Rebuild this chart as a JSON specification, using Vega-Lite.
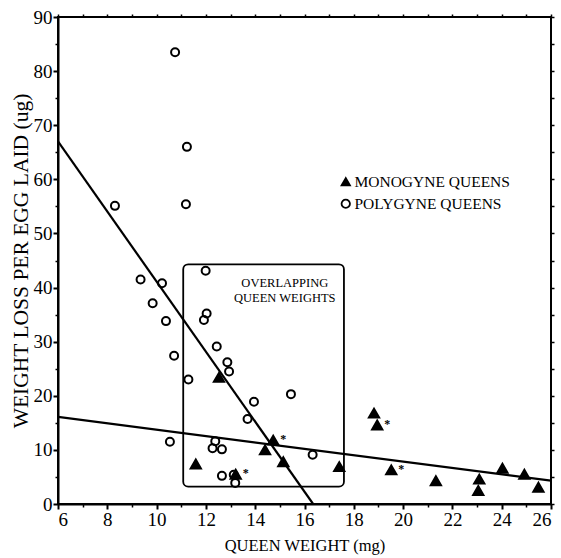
{
  "$schema": "https://vega.github.io/schema/vega-lite/v6.json",
  "width": 493,
  "height": 487,
  "autosize": {"type": "none"},
  "padding": {"left": 58, "top": 17, "right": 10, "bottom": 54},
  "background": "white",
  "config": {
    "view": {"stroke": "black", "strokeWidth": 2},
    "font": "Liberation Serif",
    "axis": {"grid": false, "labelFont": "Liberation Serif", "titleFont": "Liberation Serif", "labelColor": "black", "titleColor": "black", "tickColor": "black", "domainColor": "black", "titleFontWeight": "normal"},
    "legend": {"orient": "none", "legendX": 280, "legendY": 157, "title": null, "padding": 0, "labelFont": "Liberation Serif", "labelFontSize": 15.5, "labelColor": "black", "labelOffset": 1, "rowPadding": 4, "symbolStrokeWidth": 1.8, "symbolSize": 70}
  },
  "datasets": {
    "points": [
      {"group": "POLYGYNE QUEENS", "wt": 10.75, "loss": 83.5, "star": false},
      {"group": "POLYGYNE QUEENS", "wt": 11.23, "loss": 66.0, "star": false},
      {"group": "POLYGYNE QUEENS", "wt": 11.19, "loss": 55.4, "star": false},
      {"group": "POLYGYNE QUEENS", "wt": 8.31, "loss": 55.1, "star": false},
      {"group": "POLYGYNE QUEENS", "wt": 9.35, "loss": 41.5, "star": false},
      {"group": "POLYGYNE QUEENS", "wt": 10.22, "loss": 40.8, "star": false},
      {"group": "POLYGYNE QUEENS", "wt": 9.84, "loss": 37.1, "star": false},
      {"group": "POLYGYNE QUEENS", "wt": 10.38, "loss": 33.8, "star": false},
      {"group": "POLYGYNE QUEENS", "wt": 10.71, "loss": 27.4, "star": false},
      {"group": "POLYGYNE QUEENS", "wt": 11.99, "loss": 43.1, "star": false},
      {"group": "POLYGYNE QUEENS", "wt": 12.03, "loss": 35.2, "star": false},
      {"group": "POLYGYNE QUEENS", "wt": 11.92, "loss": 34.0, "star": false},
      {"group": "POLYGYNE QUEENS", "wt": 12.44, "loss": 29.1, "star": false},
      {"group": "POLYGYNE QUEENS", "wt": 12.87, "loss": 26.2, "star": false},
      {"group": "POLYGYNE QUEENS", "wt": 12.94, "loss": 24.5, "star": false},
      {"group": "POLYGYNE QUEENS", "wt": 11.29, "loss": 23.0, "star": false},
      {"group": "POLYGYNE QUEENS", "wt": 13.95, "loss": 18.9, "star": false},
      {"group": "POLYGYNE QUEENS", "wt": 15.45, "loss": 20.3, "star": false},
      {"group": "POLYGYNE QUEENS", "wt": 13.69, "loss": 15.7, "star": false},
      {"group": "POLYGYNE QUEENS", "wt": 12.38, "loss": 11.6, "star": false},
      {"group": "POLYGYNE QUEENS", "wt": 12.27, "loss": 10.3, "star": false},
      {"group": "POLYGYNE QUEENS", "wt": 12.65, "loss": 10.1, "star": false},
      {"group": "POLYGYNE QUEENS", "wt": 16.33, "loss": 9.1, "star": false},
      {"group": "POLYGYNE QUEENS", "wt": 12.65, "loss": 5.2, "star": false},
      {"group": "POLYGYNE QUEENS", "wt": 13.13, "loss": 5.4, "star": false},
      {"group": "POLYGYNE QUEENS", "wt": 13.19, "loss": 3.9, "star": false},
      {"group": "POLYGYNE QUEENS", "wt": 10.54, "loss": 11.5, "star": false},
      {"group": "MONOGYNE QUEENS", "wt": 12.53, "loss": 23.4, "star": false},
      {"group": "MONOGYNE QUEENS", "wt": 11.59, "loss": 7.4, "star": false},
      {"group": "MONOGYNE QUEENS", "wt": 14.4, "loss": 10.0, "star": false},
      {"group": "MONOGYNE QUEENS", "wt": 14.73, "loss": 11.8, "star": true},
      {"group": "MONOGYNE QUEENS", "wt": 15.14, "loss": 7.8, "star": false},
      {"group": "MONOGYNE QUEENS", "wt": 17.41, "loss": 6.9, "star": false},
      {"group": "MONOGYNE QUEENS", "wt": 13.21, "loss": 5.5, "star": true},
      {"group": "MONOGYNE QUEENS", "wt": 18.82, "loss": 16.8, "star": false},
      {"group": "MONOGYNE QUEENS", "wt": 18.95, "loss": 14.6, "star": true},
      {"group": "MONOGYNE QUEENS", "wt": 19.52, "loss": 6.3, "star": true},
      {"group": "MONOGYNE QUEENS", "wt": 21.33, "loss": 4.3, "star": false},
      {"group": "MONOGYNE QUEENS", "wt": 23.09, "loss": 4.6, "star": false},
      {"group": "MONOGYNE QUEENS", "wt": 23.05, "loss": 2.5, "star": false},
      {"group": "MONOGYNE QUEENS", "wt": 24.03, "loss": 6.6, "star": false},
      {"group": "MONOGYNE QUEENS", "wt": 24.92, "loss": 5.5, "star": false},
      {"group": "MONOGYNE QUEENS", "wt": 25.49, "loss": 3.1, "star": false}
    ],
    "fits": [
      {"fit": "polygyne", "wt": 6, "loss": 67.0},
      {"fit": "polygyne", "wt": 16.35, "loss": 0},
      {"fit": "monogyne", "wt": 6, "loss": 16.1},
      {"fit": "monogyne", "wt": 26, "loss": 4.3}
    ],
    "box": [
      {"x1": 11.08, "x2": 17.6, "y1": 3.2, "y2": 44.3}
    ],
    "boxtext": [
      {"label": "OVERLAPPING", "wt": 15.2, "loss": 40.9},
      {"label": "QUEEN WEIGHTS", "wt": 15.2, "loss": 38.1}
    ]
  },
  "resolve": {"axis": {"x": "independent", "y": "independent"}},
  "layer": [
    {
      "data": {"name": "box"},
      "mark": {"type": "rect", "filled": false, "stroke": "black", "strokeWidth": 1.8, "cornerRadius": 5},
      "encoding": {
        "x": {"field": "x1", "type": "quantitative", "scale": {"domain": [6, 26], "nice": false},
          "axis": {"orient": "bottom", "values": [7, 9, 11, 13, 15, 17, 19, 21, 23, 25], "labels": false, "domain": false, "tickSize": 3, "tickWidth": 1.5, "title": null}},
        "x2": {"field": "x2"},
        "y": {"field": "y1", "type": "quantitative", "scale": {"domain": [0, 90], "nice": false},
          "axis": {"orient": "left", "values": [5, 15, 25, 35, 45, 55, 65, 75, 85], "labels": false, "domain": false, "tickSize": 3, "tickWidth": 1.5, "title": null}},
        "y2": {"field": "y2"}
      }
    },
    {
      "data": {"name": "fits"},
      "mark": {"type": "line", "color": "black", "strokeWidth": 2.2, "clip": true},
      "encoding": {
        "x": {"field": "wt", "type": "quantitative", "scale": {"domain": [6, 26], "nice": false},
          "axis": {"orient": "top", "values": [6, 7, 8, 9, 10, 11, 12, 13, 14, 15, 16, 17, 18, 19, 20, 21, 22, 23, 24, 25, 26], "labels": false, "domain": false, "tickSize": 3, "tickWidth": 1.5, "title": null}},
        "y": {"field": "loss", "type": "quantitative", "scale": {"domain": [0, 90], "nice": false},
          "axis": {"orient": "right", "values": [0, 5, 10, 15, 20, 25, 30, 35, 40, 45, 50, 55, 60, 65, 70, 75, 80, 85, 90], "labels": false, "domain": false, "tickSize": 3, "tickWidth": 1.5, "title": null}},
        "detail": {"field": "fit"}
      }
    },
    {
      "data": {"name": "points"},
      "mark": {"type": "point", "filled": true, "strokeWidth": 2, "opacity": 1},
      "encoding": {
        "x": {"field": "wt", "type": "quantitative", "scale": {"domain": [6, 26], "nice": false},
          "axis": {"orient": "bottom", "values": [6, 8, 10, 12, 14, 16, 18, 20, 22, 24, 26], "tickSize": 5, "tickWidth": 2, "domainWidth": 2, "labelFontSize": 19, "labelPadding": 1, "title": "QUEEN WEIGHT (mg)", "titleFontSize": 16.5, "titlePadding": 8}},
        "y": {"field": "loss", "type": "quantitative", "scale": {"domain": [0, 90], "nice": false},
          "axis": {"orient": "left", "values": [0, 10, 20, 30, 40, 50, 60, 70, 80, 90], "tickSize": 5, "tickWidth": 2, "domainWidth": 2, "labelFontSize": 19, "labelPadding": 1, "title": "WEIGHT LOSS PER EGG LAID (ug)", "titleFontSize": 21.5, "titlePadding": 1}},
        "size": {"condition": {"test": "datum.group === 'MONOGYNE QUEENS'", "value": 105}, "value": 64},
        "shape": {"field": "group", "type": "nominal", "scale": {"domain": ["MONOGYNE QUEENS", "POLYGYNE QUEENS"], "range": ["triangle-up", "circle"]}},
        "fill": {"field": "group", "type": "nominal", "scale": {"domain": ["MONOGYNE QUEENS", "POLYGYNE QUEENS"], "range": ["black", "transparent"]}},
        "stroke": {"field": "group", "type": "nominal", "scale": {"domain": ["MONOGYNE QUEENS", "POLYGYNE QUEENS"], "range": ["black", "black"]}}
      }
    },
    {
      "data": {"name": "points"},
      "transform": [{"filter": "datum.star"}],
      "mark": {"type": "text", "text": "*", "font": "Liberation Serif", "fontSize": 12, "fontWeight": "bold", "dx": 7, "dy": -1, "color": "black", "align": "left"},
      "encoding": {
        "x": {"field": "wt", "type": "quantitative", "scale": {"domain": [6, 26], "nice": false}, "axis": null},
        "y": {"field": "loss", "type": "quantitative", "scale": {"domain": [0, 90], "nice": false}, "axis": null}
      }
    },
    {
      "data": {"name": "boxtext"},
      "mark": {"type": "text", "font": "Liberation Serif", "fontSize": 12.5, "color": "black", "align": "center", "baseline": "middle"},
      "encoding": {
        "x": {"field": "wt", "type": "quantitative", "scale": {"domain": [6, 26], "nice": false}, "axis": null},
        "y": {"field": "loss", "type": "quantitative", "scale": {"domain": [0, 90], "nice": false}, "axis": null},
        "text": {"field": "label"}
      }
    }
  ]
}
